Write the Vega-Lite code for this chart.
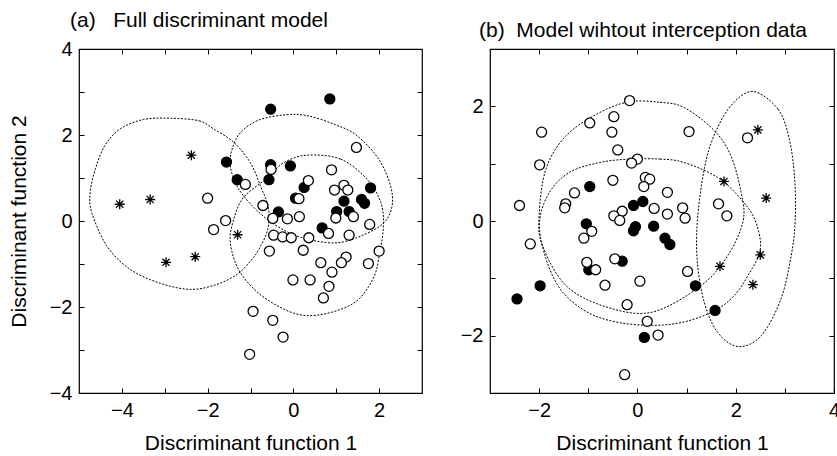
{
  "$schema": "https://vega.github.io/schema/vega-lite/v6.json",
  "padding": {"left": 7, "top": 9, "right": 0, "bottom": 0},
  "spacing": 35,
  "background": "white",
  "config": {
    "view": {"stroke": "#000", "strokeWidth": 1.2},
    "font": "Liberation Sans",
    "axis": {"domain": false, "grid": false, "tickSize": -5, "tickColor": "#000", "tickWidth": 1,
      "labelFont": "Liberation Sans", "labelFontSize": 20, "labelColor": "#000", "labelPadding": 12,
      "labelFlush": false, "labelOverlap": false, "labelBound": false,
      "titleFont": "Liberation Sans", "titleFontSize": 21, "titleFontWeight": "normal", "titleColor": "#000", "titlePadding": 12},
    "title": {"fontSize": 21, "fontWeight": "normal", "anchor": "start", "frame": "group", "color": "#000", "font": "Liberation Sans", "offset": 8}
  },
  "datasets": {
    "ptsA": [
      {"x": -1.56, "y": 1.37, "g": "filled"}, {"x": -1.31, "y": 0.96, "g": "filled"}, {"x": -0.53, "y": 2.60, "g": "filled"},
      {"x": 0.85, "y": 2.84, "g": "filled"}, {"x": -0.53, "y": 1.31, "g": "filled"}, {"x": -0.07, "y": 1.28, "g": "filled"},
      {"x": -0.57, "y": 0.96, "g": "filled"}, {"x": 0.25, "y": 0.78, "g": "filled"}, {"x": 0.05, "y": 0.53, "g": "filled"},
      {"x": 1.18, "y": 0.46, "g": "filled"}, {"x": 1.80, "y": 0.77, "g": "filled"}, {"x": 1.59, "y": 0.50, "g": "filled"},
      {"x": 1.66, "y": 0.41, "g": "filled"}, {"x": -0.35, "y": 0.21, "g": "filled"}, {"x": 1.01, "y": 0.22, "g": "filled"},
      {"x": 1.30, "y": 0.22, "g": "filled"}, {"x": 0.67, "y": -0.16, "g": "filled"},
      {"x": -2.00, "y": 0.53, "g": "open"}, {"x": -1.12, "y": 0.85, "g": "open"}, {"x": -1.58, "y": 0.01, "g": "open"},
      {"x": -1.86, "y": -0.20, "g": "open"}, {"x": 1.47, "y": 1.71, "g": "open"}, {"x": 0.89, "y": 1.19, "g": "open"},
      {"x": 0.35, "y": 0.94, "g": "open"}, {"x": -0.52, "y": 1.20, "g": "open"}, {"x": 0.13, "y": 0.52, "g": "open"},
      {"x": 0.96, "y": 0.72, "g": "open"}, {"x": 1.18, "y": 0.83, "g": "open"}, {"x": 1.27, "y": 0.72, "g": "open"},
      {"x": -0.71, "y": 0.36, "g": "open"}, {"x": 1.40, "y": 0.10, "g": "open"}, {"x": 0.99, "y": 0.07, "g": "open"},
      {"x": 0.14, "y": 0.10, "g": "open"}, {"x": -0.14, "y": 0.05, "g": "open"}, {"x": -0.48, "y": 0.06, "g": "open"},
      {"x": 1.78, "y": -0.08, "g": "open"}, {"x": -0.46, "y": -0.33, "g": "open"}, {"x": -0.25, "y": -0.37, "g": "open"},
      {"x": -0.05, "y": -0.39, "g": "open"}, {"x": 0.36, "y": -0.39, "g": "open"}, {"x": 0.82, "y": -0.29, "g": "open"},
      {"x": 1.30, "y": -0.33, "g": "open"}, {"x": -0.56, "y": -0.70, "g": "open"}, {"x": 0.23, "y": -0.68, "g": "open"},
      {"x": 0.64, "y": -0.97, "g": "open"}, {"x": 1.23, "y": -0.84, "g": "open"}, {"x": 1.12, "y": -0.97, "g": "open"},
      {"x": 1.75, "y": -0.99, "g": "open"}, {"x": 2.00, "y": -0.70, "g": "open"}, {"x": 0.90, "y": -1.19, "g": "open"},
      {"x": -0.01, "y": -1.37, "g": "open"}, {"x": 0.39, "y": -1.37, "g": "open"}, {"x": 0.83, "y": -1.52, "g": "open"},
      {"x": 0.70, "y": -1.79, "g": "open"}, {"x": -0.94, "y": -2.10, "g": "open"}, {"x": -0.48, "y": -2.31, "g": "open"},
      {"x": -0.24, "y": -2.70, "g": "open"}, {"x": -1.02, "y": -3.10, "g": "open"},
      {"x": -4.05, "y": 0.39, "g": "star"}, {"x": -3.34, "y": 0.50, "g": "star"}, {"x": -2.38, "y": 1.53, "g": "star"},
      {"x": -1.30, "y": -0.32, "g": "star"}, {"x": -2.29, "y": -0.83, "g": "star"}, {"x": -2.97, "y": -0.96, "g": "star"}
    ],
    "ellA": [
      {"e": "A1", "o": 1, "x": -2.87, "y": 2.39}, {"e": "A1", "o": 2, "x": -2.2, "y": 2.33}, {"e": "A1", "o": 3, "x": -1.86, "y": 2.14},
      {"e": "A1", "o": 4, "x": -1.39, "y": 1.83}, {"e": "A1", "o": 5, "x": -1.0, "y": 1.35}, {"e": "A1", "o": 6, "x": -0.77, "y": 0.82},
      {"e": "A1", "o": 7, "x": -0.58, "y": 0.3}, {"e": "A1", "o": 8, "x": -0.6, "y": -0.2}, {"e": "A1", "o": 9, "x": -0.8, "y": -0.65},
      {"e": "A1", "o": 10, "x": -1.0, "y": -0.93}, {"e": "A1", "o": 11, "x": -1.31, "y": -1.24}, {"e": "A1", "o": 12, "x": -1.8, "y": -1.48},
      {"e": "A1", "o": 13, "x": -2.4, "y": -1.59}, {"e": "A1", "o": 14, "x": -3.1, "y": -1.45}, {"e": "A1", "o": 15, "x": -3.8, "y": -1.13},
      {"e": "A1", "o": 16, "x": -4.35, "y": -0.58}, {"e": "A1", "o": 17, "x": -4.7, "y": 0.19}, {"e": "A1", "o": 18, "x": -4.74, "y": 0.66},
      {"e": "A1", "o": 19, "x": -4.62, "y": 1.2}, {"e": "A1", "o": 20, "x": -4.4, "y": 1.75}, {"e": "A1", "o": 21, "x": -4.04, "y": 2.14},
      {"e": "A1", "o": 22, "x": -3.5, "y": 2.36},
      {"e": "A2", "o": 1, "x": -0.18, "y": 2.47}, {"e": "A2", "o": 2, "x": 0.32, "y": 2.45}, {"e": "A2", "o": 3, "x": 0.95, "y": 2.25},
      {"e": "A2", "o": 4, "x": 1.49, "y": 1.98}, {"e": "A2", "o": 5, "x": 2.04, "y": 1.36}, {"e": "A2", "o": 6, "x": 2.31, "y": 0.58},
      {"e": "A2", "o": 7, "x": 2.15, "y": 0.0}, {"e": "A2", "o": 8, "x": 1.57, "y": -0.35}, {"e": "A2", "o": 9, "x": 0.95, "y": -0.51},
      {"e": "A2", "o": 10, "x": 0.17, "y": -0.38}, {"e": "A2", "o": 11, "x": -0.38, "y": -0.12}, {"e": "A2", "o": 12, "x": -0.8, "y": 0.2},
      {"e": "A2", "o": 13, "x": -1.16, "y": 0.58}, {"e": "A2", "o": 14, "x": -1.35, "y": 0.89}, {"e": "A2", "o": 15, "x": -1.47, "y": 1.28},
      {"e": "A2", "o": 16, "x": -1.43, "y": 1.67}, {"e": "A2", "o": 17, "x": -1.23, "y": 2.06}, {"e": "A2", "o": 18, "x": -0.8, "y": 2.35},
      {"e": "A3", "o": 1, "x": 0.32, "y": 1.53}, {"e": "A3", "o": 2, "x": 1.1, "y": 1.44}, {"e": "A3", "o": 3, "x": 1.72, "y": 0.97},
      {"e": "A3", "o": 4, "x": 2.04, "y": 0.43}, {"e": "A3", "o": 5, "x": 2.1, "y": -0.1}, {"e": "A3", "o": 6, "x": 2.02, "y": -0.7},
      {"e": "A3", "o": 7, "x": 1.85, "y": -1.36}, {"e": "A3", "o": 8, "x": 1.34, "y": -1.95}, {"e": "A3", "o": 9, "x": 0.3, "y": -2.2},
      {"e": "A3", "o": 10, "x": -0.61, "y": -1.83}, {"e": "A3", "o": 11, "x": -1.23, "y": -1.21}, {"e": "A3", "o": 12, "x": -1.47, "y": -0.51},
      {"e": "A3", "o": 13, "x": -1.39, "y": 0.04}, {"e": "A3", "o": 14, "x": -1.16, "y": 0.55}, {"e": "A3", "o": 15, "x": -0.61, "y": 1.0},
      {"e": "A3", "o": 16, "x": -0.22, "y": 1.36}
    ],
    "ptsB": [
      {"x": -0.97, "y": 0.60, "g": "filled"}, {"x": -0.08, "y": 0.27, "g": "filled"}, {"x": 0.11, "y": 0.34, "g": "filled"},
      {"x": -1.04, "y": -0.05, "g": "filled"}, {"x": -0.04, "y": -0.10, "g": "filled"}, {"x": -0.08, "y": -0.17, "g": "filled"},
      {"x": 0.33, "y": -0.09, "g": "filled"}, {"x": -0.31, "y": -0.70, "g": "filled"}, {"x": -0.99, "y": -0.85, "g": "filled"},
      {"x": -1.98, "y": -1.13, "g": "filled"}, {"x": -2.45, "y": -1.36, "g": "filled"}, {"x": 0.14, "y": -2.03, "g": "filled"},
      {"x": 0.56, "y": -0.30, "g": "filled"}, {"x": 0.66, "y": -0.41, "g": "filled"}, {"x": 1.18, "y": -1.13, "g": "filled"},
      {"x": 1.58, "y": -1.56, "g": "filled"},
      {"x": -0.16, "y": 2.10, "g": "open"}, {"x": -0.48, "y": 1.82, "g": "open"}, {"x": -0.97, "y": 1.71, "g": "open"},
      {"x": -1.95, "y": 1.55, "g": "open"}, {"x": -0.52, "y": 1.55, "g": "open"}, {"x": -0.40, "y": 1.24, "g": "open"},
      {"x": -1.99, "y": 0.98, "g": "open"}, {"x": 0.00, "y": 1.08, "g": "open"}, {"x": -0.12, "y": 1.01, "g": "open"},
      {"x": -0.50, "y": 0.71, "g": "open"}, {"x": 0.16, "y": 0.76, "g": "open"}, {"x": 0.25, "y": 0.73, "g": "open"},
      {"x": 0.13, "y": 0.60, "g": "open"}, {"x": -1.28, "y": 0.49, "g": "open"}, {"x": -1.46, "y": 0.30, "g": "open"},
      {"x": -1.48, "y": 0.23, "g": "open"}, {"x": -2.40, "y": 0.27, "g": "open"}, {"x": 0.34, "y": 0.22, "g": "open"},
      {"x": -0.31, "y": 0.17, "g": "open"}, {"x": -0.48, "y": 0.09, "g": "open"}, {"x": -0.36, "y": 0.01, "g": "open"},
      {"x": 1.05, "y": 1.56, "g": "open"}, {"x": 2.24, "y": 1.45, "g": "open"}, {"x": 0.61, "y": 0.50, "g": "open"},
      {"x": 0.61, "y": 0.12, "g": "open"}, {"x": 0.92, "y": 0.23, "g": "open"}, {"x": 0.97, "y": 0.05, "g": "open"},
      {"x": 1.65, "y": 0.30, "g": "open"}, {"x": 1.82, "y": 0.09, "g": "open"}, {"x": -0.93, "y": -0.18, "g": "open"},
      {"x": -1.09, "y": -0.30, "g": "open"}, {"x": -2.18, "y": -0.40, "g": "open"}, {"x": -1.03, "y": -0.72, "g": "open"},
      {"x": -0.85, "y": -0.85, "g": "open"}, {"x": -0.46, "y": -0.66, "g": "open"}, {"x": -0.66, "y": -1.12, "g": "open"},
      {"x": 0.05, "y": -1.05, "g": "open"}, {"x": -0.21, "y": -1.46, "g": "open"}, {"x": 0.20, "y": -1.75, "g": "open"},
      {"x": 0.42, "y": -1.99, "g": "open"}, {"x": -0.26, "y": -2.68, "g": "open"}, {"x": 1.02, "y": -0.88, "g": "open"},
      {"x": 2.45, "y": 1.59, "g": "star"}, {"x": 1.76, "y": 0.69, "g": "star"}, {"x": 2.62, "y": 0.40, "g": "star"},
      {"x": 1.68, "y": -0.79, "g": "star"}, {"x": 2.50, "y": -0.59, "g": "star"}, {"x": 2.35, "y": -1.11, "g": "star"}
    ],
    "ellB": [
      {"e": "B1", "o": 1, "x": -0.16, "y": 2.08}, {"e": "B1", "o": 2, "x": 0.46, "y": 2.07}, {"e": "B1", "o": 3, "x": 0.95, "y": 1.98},
      {"e": "B1", "o": 4, "x": 1.56, "y": 1.58}, {"e": "B1", "o": 5, "x": 1.9, "y": 1.14}, {"e": "B1", "o": 6, "x": 2.11, "y": 0.5},
      {"e": "B1", "o": 7, "x": 2.15, "y": 0.0}, {"e": "B1", "o": 8, "x": 1.84, "y": -0.6}, {"e": "B1", "o": 9, "x": 1.29, "y": -1.13},
      {"e": "B1", "o": 10, "x": 0.3, "y": -1.59}, {"e": "B1", "o": 11, "x": -0.63, "y": -1.5}, {"e": "B1", "o": 12, "x": -1.45, "y": -1.13},
      {"e": "B1", "o": 13, "x": -1.93, "y": -0.43}, {"e": "B1", "o": 14, "x": -2.0, "y": 0.1}, {"e": "B1", "o": 15, "x": -1.86, "y": 0.91},
      {"e": "B1", "o": 16, "x": -1.45, "y": 1.49}, {"e": "B1", "o": 17, "x": -0.77, "y": 1.89},
      {"e": "B2", "o": 1, "x": -0.16, "y": 1.08}, {"e": "B2", "o": 2, "x": 0.46, "y": 1.08}, {"e": "B2", "o": 3, "x": 0.95, "y": 1.02},
      {"e": "B2", "o": 4, "x": 1.63, "y": 0.76}, {"e": "B2", "o": 5, "x": 2.11, "y": 0.38}, {"e": "B2", "o": 6, "x": 2.4, "y": 0.0},
      {"e": "B2", "o": 7, "x": 2.5, "y": -0.5}, {"e": "B2", "o": 8, "x": 2.25, "y": -0.95}, {"e": "B2", "o": 9, "x": 1.97, "y": -1.3},
      {"e": "B2", "o": 10, "x": 1.58, "y": -1.56}, {"e": "B2", "o": 11, "x": 0.95, "y": -1.76}, {"e": "B2", "o": 12, "x": 0.27, "y": -1.82},
      {"e": "B2", "o": 13, "x": -0.5, "y": -1.75}, {"e": "B2", "o": 14, "x": -1.1, "y": -1.55}, {"e": "B2", "o": 15, "x": -1.6, "y": -1.15},
      {"e": "B2", "o": 16, "x": -1.9, "y": -0.55}, {"e": "B2", "o": 17, "x": -1.99, "y": 0.0}, {"e": "B2", "o": 18, "x": -1.79, "y": 0.5},
      {"e": "B2", "o": 19, "x": -1.38, "y": 0.85}, {"e": "B2", "o": 20, "x": -0.77, "y": 1.02},
      {"e": "B3", "o": 1, "x": 2.35, "y": 2.26}, {"e": "B3", "o": 2, "x": 2.86, "y": 1.95}, {"e": "B3", "o": 3, "x": 3.09, "y": 1.43},
      {"e": "B3", "o": 4, "x": 3.2, "y": 0.73}, {"e": "B3", "o": 5, "x": 3.21, "y": 0.0}, {"e": "B3", "o": 6, "x": 3.13, "y": -0.6},
      {"e": "B3", "o": 7, "x": 2.92, "y": -1.36}, {"e": "B3", "o": 8, "x": 2.52, "y": -2.0}, {"e": "B3", "o": 9, "x": 2.05, "y": -2.19},
      {"e": "B3", "o": 10, "x": 1.63, "y": -1.94}, {"e": "B3", "o": 11, "x": 1.36, "y": -1.42}, {"e": "B3", "o": 12, "x": 1.22, "y": -0.72},
      {"e": "B3", "o": 13, "x": 1.22, "y": 0.0}, {"e": "B3", "o": 14, "x": 1.36, "y": 0.91}, {"e": "B3", "o": 15, "x": 1.56, "y": 1.49},
      {"e": "B3", "o": 16, "x": 1.9, "y": 2.01}
    ]
  },
  "hconcat": [
    {
      "title": {"text": "(a)\u00a0\u00a0\u00a0Full discriminant model", "dx": -9},
      "width": 343, "height": 344,
      "layer": [
        {
          "data": {"name": "ellA"},
          "mark": {"type": "line", "interpolate": "cardinal-closed", "strokeDash": [2, 1.5], "strokeWidth": 1, "color": "#000"},
          "encoding": {
            "x": {"field": "x", "type": "quantitative", "scale": {"domain": [-5, 3], "nice": false, "zero": false},
              "axis": {"orient": "bottom", "values": [-4, -3, -2, -1, 0, 1, 2], "labelExpr": "datum.value % 2 === 0 ? datum.label : ''", "title": "Discriminant function 1"}},
            "y": {"field": "y", "type": "quantitative", "scale": {"domain": [-4, 4], "nice": false, "zero": false},
              "axis": {"orient": "left", "values": [-4, -3, -2, -1, 0, 1, 2, 3, 4], "labelExpr": "datum.value % 2 === 0 ? datum.label : ''", "title": "Discriminant function 2", "titlePadding": 20}},
            "detail": {"field": "e"},
            "order": {"field": "o"}
          }
        },
        {
          "data": {"name": "ptsA"},
          "mark": {"type": "point", "filled": true, "stroke": "#000", "opacity": 1},
          "encoding": {
            "x": {"field": "x", "type": "quantitative", "axis": {"orient": "top", "values": [-4, -3, -2, -1, 0, 1, 2], "labels": false, "title": null}},
            "y": {"field": "y", "type": "quantitative", "axis": {"orient": "right", "values": [-3, -2, -1, 0, 1, 2, 3], "labels": false, "title": null}},
            "shape": {"field": "g", "type": "nominal", "legend": null, "scale": {"domain": ["open", "filled", "star"], "range": ["circle", "circle", "M0,-1L0,1M-1,0L1,0M-0.72,-0.72L0.72,0.72M-0.72,0.72L0.72,-0.72"]}},
            "fill": {"field": "g", "type": "nominal", "legend": null, "scale": {"domain": ["open", "filled", "star"], "range": ["#ffffff", "#000000", "#000000"]}},
            "size": {"field": "g", "type": "nominal", "legend": null, "scale": {"domain": ["open", "filled", "star"], "range": [100, 100, 160]}},
            "strokeWidth": {"field": "g", "type": "nominal", "legend": null, "scale": {"domain": ["open", "filled", "star"], "range": [1.3, 1.3, 1.5]}}
          }
        }
      ],
      "resolve": {"axis": {"x": "independent", "y": "independent"}}
    },
    {
      "title": {"text": "(b)\u00a0\u00a0Model wihtout interception data", "dx": -11},
      "width": 344, "height": 344,
      "layer": [
        {
          "data": {"name": "ellB"},
          "mark": {"type": "line", "interpolate": "cardinal-closed", "strokeDash": [2, 1.5], "strokeWidth": 1, "color": "#000"},
          "encoding": {
            "x": {"field": "x", "type": "quantitative", "scale": {"domain": [-3, 4], "nice": false, "zero": false},
              "axis": {"orient": "bottom", "values": [-2, -1, 0, 1, 2, 3, 4], "labelExpr": "datum.value % 2 === 0 ? datum.label : ''", "title": "Discriminant function 1"}},
            "y": {"field": "y", "type": "quantitative", "scale": {"domain": [-3, 3], "nice": false, "zero": false},
              "axis": {"orient": "left", "values": [-2, -1, 0, 1, 2], "labelExpr": "datum.value % 2 === 0 ? datum.label : ''", "title": null}},
            "detail": {"field": "e"},
            "order": {"field": "o"}
          }
        },
        {
          "data": {"name": "ptsB"},
          "mark": {"type": "point", "filled": true, "stroke": "#000", "opacity": 1},
          "encoding": {
            "x": {"field": "x", "type": "quantitative", "axis": {"orient": "top", "values": [-2, -1, 0, 1, 2, 3], "labels": false, "title": null}},
            "y": {"field": "y", "type": "quantitative", "axis": {"orient": "right", "values": [-2, -1, 0, 1, 2], "labels": false, "title": null}},
            "shape": {"field": "g", "type": "nominal", "legend": null, "scale": {"domain": ["open", "filled", "star"], "range": ["circle", "circle", "M0,-1L0,1M-1,0L1,0M-0.72,-0.72L0.72,0.72M-0.72,0.72L0.72,-0.72"]}},
            "fill": {"field": "g", "type": "nominal", "legend": null, "scale": {"domain": ["open", "filled", "star"], "range": ["#ffffff", "#000000", "#000000"]}},
            "size": {"field": "g", "type": "nominal", "legend": null, "scale": {"domain": ["open", "filled", "star"], "range": [100, 100, 160]}},
            "strokeWidth": {"field": "g", "type": "nominal", "legend": null, "scale": {"domain": ["open", "filled", "star"], "range": [1.3, 1.3, 1.5]}}
          }
        }
      ],
      "resolve": {"axis": {"x": "independent", "y": "independent"}}
    }
  ]
}
